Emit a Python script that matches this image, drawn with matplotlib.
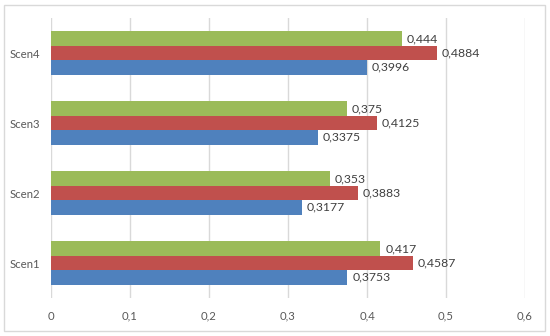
import matplotlib
matplotlib.use('Agg')
import matplotlib.pyplot as plt
from matplotlib.patches import Rectangle
from matplotlib.ticker import FuncFormatter
import numpy as np

plt.rcParams['font.family'] = ['Lato', 'DejaVu Sans']

scenarios = ['Scen1', 'Scen2', 'Scen3', 'Scen4']
blue_vals = [0.3753, 0.3177, 0.3375, 0.3996]
red_vals = [0.4587, 0.3883, 0.4125, 0.4884]
green_vals = [0.417, 0.353, 0.375, 0.444]
tick_vals = [0, 0.1, 0.2, 0.3, 0.4, 0.5, 0.6]


def comma(v):
    s = ('%.4f' % v).rstrip('0').rstrip('.')
    return s.replace('.', ',')


fig = plt.figure(figsize=(5.5, 3.36), dpi=100)
fig.patches.append(Rectangle((4 / 550, 5 / 336), 541 / 550, 326 / 336,
                             transform=fig.transFigure, fill=False,
                             edgecolor='#D9D9D9', linewidth=1.0))
ax = fig.add_axes([51 / 550, 1 - 298 / 336, 474 / 550, 280 / 336])

y = np.arange(len(scenarios))
h = 0.205
series = [(blue_vals, '#4F81BD', -h), (red_vals, '#C0504D', 0), (green_vals, '#9BBB59', h)]
for vals, color, off in series:
    bars = ax.barh(y + off, vals, height=h, color=color, zorder=3)
    for b, v in zip(bars, vals):
        ax.text(v + 0.006, b.get_y() + b.get_height() / 2, comma(v),
                va='center', ha='left', fontsize=8.8, color='#404040')

ax.set_xlim(0, 0.6)
ax.set_ylim(-0.5, 3.5)
ax.set_xticks(tick_vals)
ax.xaxis.set_major_formatter(FuncFormatter(lambda v, p: comma(v)))
ax.set_yticks(y)
ax.set_yticklabels(scenarios)
ax.tick_params(length=0, labelsize=8.2, colors='#595959')
ax.tick_params(axis='x', pad=9)
ax.tick_params(axis='y', pad=8)
ax.grid(axis='x', color='#D9D9D9', linewidth=1.0, zorder=0)
for sp in ax.spines.values():
    sp.set_visible(False)

fig.savefig('out.png', dpi=100)
